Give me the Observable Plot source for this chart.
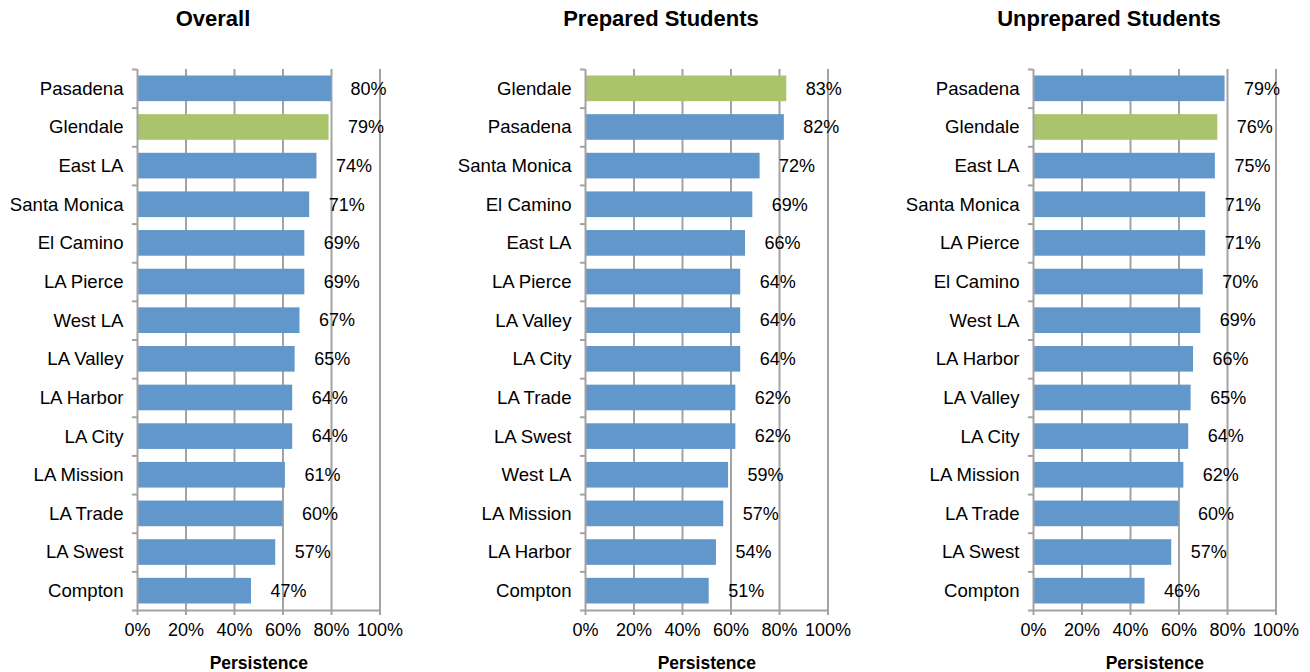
<!DOCTYPE html>
<html><head><meta charset="utf-8">
<script src="https://cdn.jsdelivr.net/npm/d3@7"></script>
<script src="https://cdn.jsdelivr.net/npm/@observablehq/plot@0.6"></script>
<style>
body{margin:0;background:#fff;overflow:hidden;font-family:"Liberation Sans",Arial,sans-serif;}
#wrap{display:flex;width:1310px;overflow:hidden}
.panel{flex:0 0 448px;width:448px}
.title{height:38px;line-height:38px;font-weight:bold;font-size:22px;text-align:center;width:426px;color:#000}
svg{display:block}
</style></head><body><div id="wrap"></div>
<script>
const panelTitles = ["Overall", "Prepared Students", "Unprepared Students"];

const overallNames = ["Pasadena","Glendale","East LA","Santa Monica","El Camino","LA Pierce","West LA","LA Valley","LA Harbor","LA City","LA Mission","LA Trade","LA Swest","Compton"];
const overallValues = [80,79,74,71,69,69,67,65,64,64,61,60,57,47];

const preparedNames = ["Glendale","Pasadena","Santa Monica","El Camino","East LA","LA Pierce","LA Valley","LA City","LA Trade","LA Swest","West LA","LA Mission","LA Harbor","Compton"];
const preparedValues = [83,82,72,69,66,64,64,64,62,62,59,57,54,51];

const unpreparedNames = ["Pasadena","Glendale","East LA","Santa Monica","LA Pierce","El Camino","West LA","LA Harbor","LA Valley","LA City","LA Mission","LA Trade","LA Swest","Compton"];
const unpreparedValues = [79,76,75,71,71,70,69,66,65,64,62,60,57,46];

const xTicks = [0,20,40,60,80,100];
const gridTicks = [20,40,60,80,100];
const highlight = "Glendale";
const xLabel = "Persistence";

const BLUE = "#6297CB", GREEN = "#A9C46B", GRID = "#A3A3A3";

function panel(title, names, values) {
  const data = names.map((n, i) => ({name: n, value: values[i]}));
  const H = 634, mT = 31, mB = 62;
  const half = (H - mT - mB) / names.length / 2;
  const div = document.createElement("div");
  div.className = "panel";
  const t = document.createElement("div");
  t.className = "title";
  t.textContent = title;
  div.appendChild(t);
  const chart = Plot.plot({
    width: 448, height: H, marginTop: mT, marginBottom: mB, marginLeft: 137, marginRight: 68.5,
    style: {fontFamily: "'Liberation Sans', Arial, sans-serif", fontSize: "18px", color: "#000", background: "#fff", overflow: "visible"},
    x: {domain: [0, 100]},
    y: {domain: names, padding: 0, round: false},
    marks: [
      Plot.ruleX(gridTicks, {stroke: GRID, strokeWidth: 2}),
      Plot.barX(data, {x: "value", y: "name", fill: d => d.name === highlight ? GREEN : BLUE, insetTop: 6.5, insetBottom: 6.5}),
      Plot.ruleX([0], {stroke: GRID, strokeWidth: 2}),
      Plot.ruleY(names, {y: d => d, x1: -2.1, x2: 0, dy: -half, stroke: GRID, strokeWidth: 2}),
      Plot.ruleY([names[names.length - 1]], {y: d => d, x1: -2.1, x2: 100, dy: half, stroke: GRID, strokeWidth: 2}),
      Plot.text(data, {x: "value", y: "name", text: d => d.value + "%", textAnchor: "start", dx: 19, fill: "#000"}),
      Plot.axisY({tickSize: 0, tickPadding: 14, label: null, fill: "#000", fontSize: 18.6}),
      Plot.axisX({ticks: xTicks, tickSize: 5, tickPadding: 8, stroke: GRID, strokeWidth: 2, tickFormat: d => d + "%", label: null, fill: "#000"}),
      Plot.text([xLabel], {frameAnchor: "bottom", lineAnchor: "middle", dy: 53, fontWeight: "bold", fontSize: 17.5, fill: "#000"})
    ]
  });
  div.appendChild(chart);
  return div;
}

const wrap = document.getElementById("wrap");
wrap.appendChild(panel(panelTitles[0], overallNames, overallValues));
wrap.appendChild(panel(panelTitles[1], preparedNames, preparedValues));
wrap.appendChild(panel(panelTitles[2], unpreparedNames, unpreparedValues));
</script>
</body></html>
